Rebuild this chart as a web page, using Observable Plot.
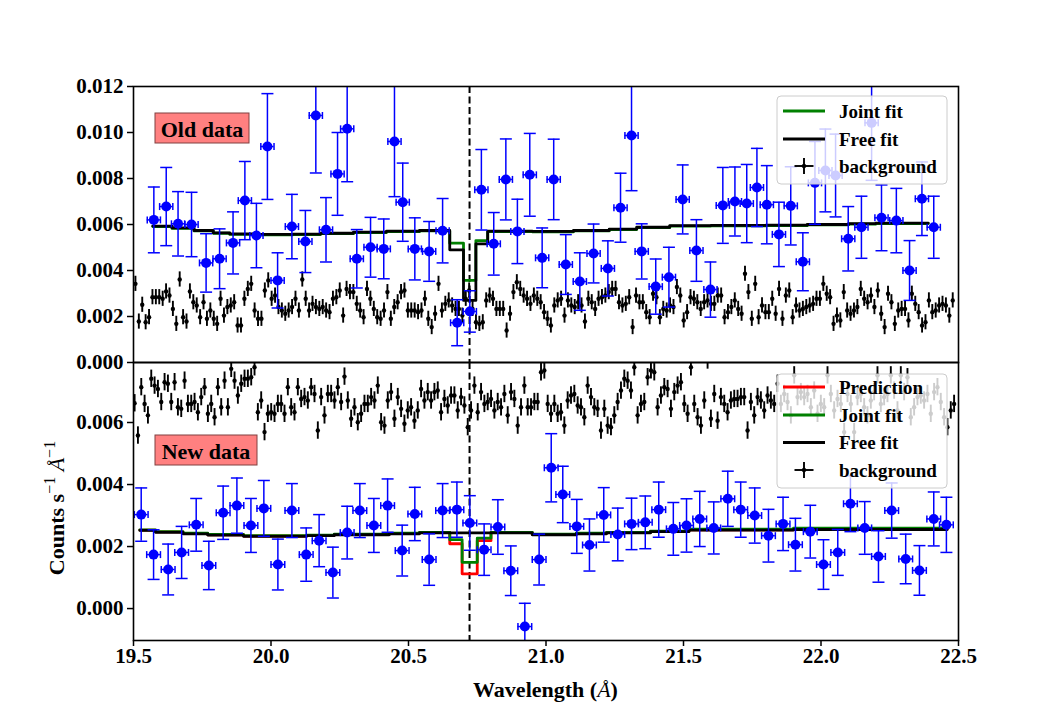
<!DOCTYPE html>
<html>
<head>
<meta charset="utf-8">
<script src="https://cdn.jsdelivr.net/npm/d3@7"></script>
<script src="https://cdn.jsdelivr.net/npm/@observablehq/plot@0.6"></script>
<style>
  html, body { margin: 0; padding: 0; background: white; }
  #fig { position: relative; width: 1063px; height: 719px; background: white; overflow: hidden; }
  #fig > svg { position: absolute; left: 0; top: 0; }
  #fig [aria-label^="y-axis"] line, #fig [aria-label^="y-axis"] path,
  #fig [aria-label^="x-axis"] line, #fig [aria-label^="x-axis"] path { stroke-width: 1.5px; }
</style>
</head>
<body>
<div id="fig"></div>
<script>
// ---------------- DATA (values in units of 1e-3 counts s^-1 Å^-1) ----------------
const E3 = 1e-3;
const lineCenter = 20.722;              // dashed vertical line (Å)
const xTicks = [19.5, 20.0, 20.5, 21.0, 21.5, 22.0, 22.5];
const yTicksTop = [0, 0.002, 0.004, 0.006, 0.008, 0.010, 0.012];
const yTicksBot = [0, 0.002, 0.004, 0.006];

// Old data (top panel) – source spectrum
const oldX = [19.574,19.619,19.662,19.711,19.764,19.813,19.862,19.905,19.947,19.987,
  20.024,20.076,20.125,20.163,20.200,20.242,20.277,20.312,20.362,20.410,
  20.449,20.479,20.523,20.575,20.624,20.677,20.723,20.765,20.810,20.854,
  20.896,20.941,20.986,21.028,21.072,21.123,21.173,21.225,21.271,21.311,
  21.348,21.399,21.447,21.497,21.547,21.598,21.643,21.687,21.730,21.767,
  21.803,21.847,21.890,21.934,21.978,22.016,22.053,22.099,22.147,22.184,
  22.220,22.274,22.322,22.367,22.410];
const oldY = [6.20,6.78,6.03,6.00,4.33,4.51,5.20,7.04,5.52,9.39,
  3.57,5.91,5.26,10.74,5.77,8.20,10.16,4.51,5.01,4.94,
  9.61,6.97,4.94,4.83,5.73,1.73,2.22,7.51,5.16,7.96,
  5.70,8.16,4.55,7.96,4.26,3.52,4.74,4.09,6.73,9.87,
  4.83,3.30,3.71,7.09,4.87,3.17,6.83,7.00,6.91,7.61,
  6.86,5.57,6.81,4.38,7.81,8.35,8.13,5.38,5.88,10.42,
  6.29,6.17,4.00,7.12,5.88];
const oldErr = [1.43,1.70,1.40,1.40,1.27,1.30,1.35,1.70,1.40,2.30,
  1.20,1.40,1.35,2.50,1.40,1.80,2.30,1.27,1.30,1.30,
  2.40,1.70,1.35,1.30,1.40,1.00,0.90,1.75,1.36,1.76,
  1.40,1.80,1.30,1.75,1.30,1.25,1.28,1.20,1.50,2.40,
  1.20,1.20,1.30,1.50,1.34,1.20,1.65,1.50,1.70,1.70,
  1.70,1.40,1.70,1.26,1.80,1.80,1.80,1.40,1.35,2.50,
  1.43,1.40,1.30,1.60,1.35];
const oldXErr = 0.024;

// New data (bottom panel)
const newX = [19.528,19.573,19.626,19.675,19.728,19.774,19.826,19.876,19.927,19.974,
  20.025,20.076,20.128,20.175,20.225,20.277,20.323,20.374,20.424,20.477,
  20.523,20.575,20.624,20.676,20.723,20.775,20.825,20.872,20.923,20.975,
  21.019,21.061,21.112,21.158,21.210,21.261,21.311,21.361,21.410,21.463,
  21.511,21.559,21.610,21.661,21.708,21.759,21.809,21.862,21.907,21.961,
  22.009,22.061,22.107,22.159,22.209,22.257,22.308,22.358,22.410,22.456];
const newY = [3.03,1.74,1.26,1.81,2.70,1.39,3.09,3.32,2.68,3.23,
  1.42,3.16,1.74,2.19,1.16,2.45,3.16,2.68,3.32,1.87,
  3.05,1.58,3.16,3.19,2.76,1.90,2.63,1.22,-0.58,1.58,
  4.54,3.68,2.65,2.05,3.02,2.39,2.73,2.78,3.19,2.57,
  2.68,2.89,2.60,3.54,3.19,3.00,2.35,2.73,2.06,2.48,
  1.42,1.81,3.38,2.60,1.68,3.16,1.60,1.23,2.89,2.70];
const newErr = [0.86,0.80,0.82,0.84,0.85,0.78,0.86,0.89,0.87,0.90,
  0.82,0.87,0.86,0.84,0.82,0.85,0.87,0.87,0.86,0.82,
  0.86,0.83,0.87,0.89,0.88,0.83,0.88,0.80,0.75,0.82,
  1.10,0.91,0.87,0.84,0.88,0.85,0.83,0.85,0.89,0.85,
  0.86,0.89,0.84,0.89,0.89,0.89,0.85,0.86,0.85,0.85,
  0.80,0.74,0.90,0.85,0.83,0.89,0.80,0.80,0.87,0.89];
const newXErr = 0.025;

// Background spectra (evenly binned)
const bgTopRange = [19.507, 22.479];
const bgTopY = [3.42,1.78,2.51,1.75,1.97,2.84,2.84,2.84,2.77,3.09,
  2.91,2.33,1.68,3.61,1.97,1.78,3.09,2.62,2.48,1.97,
  2.62,1.90,2.26,1.90,1.68,2.77,2.04,2.41,2.48,2.62,
  1.61,1.61,2.77,3.20,3.42,2.26,1.90,1.90,3.13,3.57,
  2.77,2.91,2.41,2.26,2.12,2.26,2.41,2.77,2.26,3.61,
  2.77,2.26,2.55,2.41,2.33,2.41,2.26,2.19,2.77,2.84,
  3.13,2.04,3.20,3.06,3.06,2.55,2.26,1.97,3.20,2.77,
  2.33,1.97,1.90,2.26,3.06,1.90,2.41,2.62,3.06,3.13,
  2.26,2.26,2.26,2.19,2.26,2.77,1.90,1.54,2.12,3.42,
  2.26,2.55,2.70,2.48,2.33,2.33,2.04,2.77,3.13,2.33,
  1.75,1.68,1.75,2.70,2.91,2.77,2.33,2.33,2.33,1.39,
  2.12,3.06,3.49,3.20,2.91,2.77,2.55,2.91,2.77,2.62,
  2.19,1.90,1.61,2.48,2.70,2.77,2.04,2.70,2.48,2.41,
  2.62,2.48,1.78,2.77,2.62,2.33,2.77,2.84,2.91,3.06,
  3.20,3.20,2.62,2.48,2.55,2.84,1.54,2.91,2.62,2.62,
  2.19,1.97,2.99,2.84,1.97,2.33,2.26,2.48,2.41,3.28,
  2.91,1.83,2.19,2.84,2.77,2.62,2.33,2.62,2.70,2.55,
  2.55,2.91,2.91,1.97,2.19,2.41,2.70,2.33,2.12,3.86,
  3.06,1.90,3.42,1.97,2.48,2.19,2.19,2.77,2.12,3.20,
  1.90,2.91,3.13,1.97,2.48,2.26,2.33,2.41,2.48,2.55,
  2.77,2.77,3.42,2.99,2.84,1.68,2.04,1.83,3.06,2.26,
  2.12,2.26,2.41,3.20,2.77,2.62,2.91,2.41,3.13,2.12,
  1.54,2.99,2.62,1.68,2.26,2.33,2.33,1.83,2.99,2.55,
  2.19,1.61,1.75,2.70,2.19,2.26,2.48,2.55,2.48,2.04,2.70];
const bgTopErr = 0.33;

const bgBotRange = [19.504, 22.484];
const bgBotY = [6.62,5.58,7.14,6.60,6.23,7.41,7.19,7.08,6.66,7.30,
  7.25,6.66,7.30,6.49,6.44,7.35,6.60,6.60,6.66,6.33,
  6.82,7.14,6.28,6.60,6.17,7.14,6.49,7.35,6.49,7.73,
  7.35,6.87,7.25,7.41,7.41,7.46,7.78,6.33,6.71,5.69,6.28,
  6.33,6.28,6.60,6.60,6.28,7.14,6.49,6.33,7.14,6.76,
  6.82,6.71,7.14,6.92,5.74,6.82,6.23,6.92,6.92,6.71,
  7.14,6.66,7.48,6.71,6.12,6.49,6.01,6.28,6.60,6.60,
  6.82,6.71,7.19,6.01,5.90,6.71,6.98,6.12,6.82,6.44,
  5.96,6.39,6.49,6.06,6.39,7.08,6.71,6.98,6.71,6.98,
  7.03,6.33,6.76,6.55,6.87,6.87,6.39,6.82,6.55,5.85,
  6.39,7.19,6.33,6.98,6.60,6.66,6.76,6.39,6.66,6.49,
  6.92,6.23,6.98,6.76,5.90,6.49,7.19,6.49,6.49,6.66,
  6.66,7.62,
  7.68,6.60,6.28,6.60,6.28,6.33,5.90,6.71,6.87,6.92,
  6.55,6.49,6.17,7.19,6.82,6.49,6.44,5.74,6.44,5.90,
  5.85,6.23,6.66,7.03,7.41,7.35,7.03,7.78,6.23,6.60,
  6.66,7.46,7.68,7.62,6.49,6.87,7.14,7.08,6.44,6.98,
  7.19,7.30,6.60,6.28,7.78,6.60,6.17,5.90,6.71,8.00,
  6.12,6.92,6.06,6.82,6.60,6.33,6.71,6.76,6.76,6.82,
  6.82,5.74,6.66,6.23,6.82,6.71,6.39,6.87,6.71,6.60,
  7.25,6.60,6.92,6.66,6.23,7.52,6.82,6.98,6.82,6.92,
  6.49,7.03,6.28,6.60,6.49,7.52,6.92,6.39,6.76,6.60,
  5.69,6.92,6.60,5.69,6.82,6.92,6.49,6.23,6.71,6.98,
  7.52,6.60,6.82,6.92,7.52,7.03,6.39,7.52,6.98,7.46,
  6.17,6.49,6.82,6.87,6.71,6.92,6.28,6.98,7.14,6.66,
  6.17,5.85,6.39,6.60];
const bgBotErr = 0.28;

// Model step curves (x = left edge of each step; last point closes the curve)
const fitTopFreeX  = [19.570,19.640,19.720,19.790,19.850,19.950,20.080,20.180,20.300,20.420,20.540,20.650,20.700,20.745,20.788,20.950,21.100,21.230,21.330,21.450,21.600,21.800,21.950,22.100,22.200,22.390];
const fitTopFreeY  = [5.93,5.85,5.74,5.64,5.59,5.57,5.58,5.62,5.67,5.71,5.74,4.90,2.70,5.16,5.71,5.70,5.74,5.80,5.88,5.95,5.96,5.97,6.00,6.04,6.06,6.06];
const fitTopJointX = [19.570,19.640,19.720,19.790,19.850,19.950,20.080,20.180,20.300,20.420,20.540,20.650,20.700,20.745,20.788,20.950,21.100,21.230,21.330,21.450,21.600,21.800,21.950,22.100,22.200,22.390];
const fitTopJointY = [5.91,5.83,5.72,5.62,5.57,5.55,5.56,5.60,5.65,5.69,5.72,5.19,3.57,5.30,5.69,5.68,5.72,5.78,5.86,5.93,5.94,5.95,5.98,6.02,6.04,6.04];

const fitBotFreeX  = [19.523,19.580,19.680,19.770,19.900,20.130,20.230,20.430,20.540,20.950,21.110,21.220,21.380,21.520,21.900,22.459];
const fitBotFreeY  = [2.52,2.46,2.41,2.37,2.33,2.35,2.38,2.41,2.44,2.38,2.41,2.44,2.48,2.53,2.55,2.55];
const fitBotJointX = [19.523,19.580,19.680,19.770,19.900,20.130,20.230,20.430,20.540,20.650,20.695,20.750,20.800,20.950,21.110,21.220,21.380,21.520,21.900,22.459];
const fitBotJointY = [2.54,2.48,2.43,2.39,2.35,2.37,2.40,2.43,2.46,2.22,1.49,2.27,2.46,2.40,2.43,2.46,2.50,2.56,2.59,2.59];
const fitBotPredX  = [19.523,19.580,19.680,19.770,19.900,20.130,20.230,20.430,20.540,20.650,20.695,20.750,20.800,20.950,21.110,21.220,21.380,21.520,21.900,22.459];
const fitBotPredY  = [2.53,2.47,2.42,2.38,2.34,2.36,2.39,2.42,2.45,2.09,1.12,2.19,2.45,2.39,2.42,2.45,2.49,2.54,2.56,2.56];

// ---------------- TABLES ----------------
const pts = (X, Y, Err, XErr) => X.map((x, i) => ({
  x, y: Y[i] * E3, lo: (Y[i] - Err[i]) * E3, hi: (Y[i] + Err[i]) * E3, x1: x - XErr, x2: x + XErr
}));
const bg = (range, Y, err) => {
  const n = Y.length, step = (range[1] - range[0]) / (n - 1);
  return Y.map((v, i) => ({ x: range[0] + i * step, y: v * E3, lo: (v - err) * E3, hi: (v + err) * E3 }));
};
const curve = (X, Y) => X.map((x, i) => ({ x, y: Y[i] * E3 }));

const oldPts = pts(oldX, oldY, oldErr, oldXErr);
const newPts = pts(newX, newY, newErr, newXErr);
const bgTop = bg(bgTopRange, bgTopY, bgTopErr);
const bgBot = bg(bgBotRange, bgBotY, bgBotErr);

const hcap = { draw(ctx, size) { const r = Math.sqrt(size / Math.PI); ctx.moveTo(-r, 0); ctx.lineTo(r, 0); } };
const vcap = { draw(ctx, size) { const r = Math.sqrt(size / Math.PI); ctx.moveTo(0, -r); ctx.lineTo(0, r); } };

const BLUE = "#0000ff", GREEN = "#008000", RED = "#ff0000";
const fontStyle = { fontFamily: "'Liberation Serif', 'Times New Roman', serif", fontSize: "21px", fontWeight: "bold", background: "transparent", overflow: "visible", color: "black" };

function dataMarks(P) {
  return [
    Plot.ruleX(P, { x: "x", y1: "lo", y2: "hi", stroke: BLUE, strokeWidth: 1.5, clip: true }),
    Plot.ruleY(P, { y: "y", x1: "x1", x2: "x2", stroke: BLUE, strokeWidth: 1.5, clip: true }),
    Plot.dot(P, { x: "x", y: "hi", symbol: hcap, r: 6, fill: "none", stroke: BLUE, strokeWidth: 1.5, clip: true }),
    Plot.dot(P, { x: "x", y: "lo", symbol: hcap, r: 6, fill: "none", stroke: BLUE, strokeWidth: 1.5, clip: true }),
    Plot.dot(P, { x: "x1", y: "y", symbol: vcap, r: 3.5, fill: "none", stroke: BLUE, strokeWidth: 1.5, clip: true }),
    Plot.dot(P, { x: "x2", y: "y", symbol: vcap, r: 3.5, fill: "none", stroke: BLUE, strokeWidth: 1.5, clip: true }),
    Plot.dot(P, { x: "x", y: "y", r: 5, fill: BLUE, stroke: "none", clip: true })
  ];
}
function bgMarks(B) {
  return [
    Plot.ruleX(B, { x: "x", y1: "lo", y2: "hi", stroke: "black", strokeWidth: 1.9, clip: true }),
    Plot.dot(B, { x: "x", y: "y", r: 2.2, fill: "black", stroke: "none", clip: true })
  ];
}

const topPlot = Plot.plot({
  width: 1063, height: 719,
  marginLeft: 133, marginRight: 105, marginTop: 86, marginBottom: 357,
  style: fontStyle,
  x: { domain: [19.5, 22.5], axis: null },
  y: { domain: [0, 0.012], ticks: yTicksTop, tickFormat: d3.format(".3f"), tickSize: 6, tickPadding: 4, label: null },
  marks: [
    ...bgMarks(bgTop),
    Plot.ruleX([lineCenter], { stroke: "black", strokeWidth: 2, strokeDasharray: "7,3.5" }),
    Plot.line(curve(fitTopJointX, fitTopJointY), { x: "x", y: "y", curve: "step-after", stroke: GREEN, strokeWidth: 2.8 }),
    Plot.line(curve(fitTopFreeX, fitTopFreeY), { x: "x", y: "y", curve: "step-after", stroke: "black", strokeWidth: 2.8 }),
    ...dataMarks(oldPts),
    Plot.frame({ stroke: "black", strokeWidth: 1.6 })
  ]
});

const botPlot = Plot.plot({
  width: 1063, height: 719,
  marginLeft: 133, marginRight: 105, marginTop: 362, marginBottom: 79,
  style: fontStyle,
  x: { domain: [19.5, 22.5], ticks: xTicks, tickFormat: d3.format(".1f"), tickSize: 6, tickPadding: 2, label: null },
  y: { domain: [-0.00103, 0.007935], ticks: yTicksBot, tickFormat: d3.format(".3f"), tickSize: 6, tickPadding: 4, label: null },
  marks: [
    ...bgMarks(bgBot),
    Plot.ruleX([lineCenter], { stroke: "black", strokeWidth: 2, strokeDasharray: "7,3.5" }),
    Plot.line(curve(fitBotPredX, fitBotPredY), { x: "x", y: "y", curve: "step-after", stroke: RED, strokeWidth: 2.8 }),
    Plot.line(curve(fitBotJointX, fitBotJointY), { x: "x", y: "y", curve: "step-after", stroke: GREEN, strokeWidth: 2.8 }),
    Plot.line(curve(fitBotFreeX, fitBotFreeY), { x: "x", y: "y", curve: "step-after", stroke: "black", strokeWidth: 2.8 }),
    ...dataMarks(newPts),
    Plot.frame({ stroke: "black", strokeWidth: 1.6 })
  ]
});

const fig = document.getElementById("fig");
fig.appendChild(botPlot);
fig.appendChild(topPlot);

// ---------------- OVERLAY: legends, annotations, axis labels ----------------
const ov = d3.create("svg").attr("width", 1063).attr("height", 719)
  .style("font-family", "'Liberation Serif', 'Times New Roman', serif");

function annot(x, y, w, h, label) {
  ov.append("rect").attr("x", x).attr("y", y).attr("width", w).attr("height", h)
    .attr("fill", "#ff8080").attr("stroke", "#804040").attr("stroke-width", 1);
  ov.append("text").attr("x", x + w / 2).attr("y", y + h / 2 + 1).attr("text-anchor", "middle")
    .attr("dominant-baseline", "central").attr("font-size", 22).attr("font-weight", "bold").text(label);
}
annot(155, 113, 94, 30, "Old data");
annot(155, 435, 102, 30, "New data");

function legend(x, y, w, h, rows) {
  ov.append("rect").attr("x", x).attr("y", y).attr("width", w).attr("height", h).attr("rx", 4)
    .attr("fill", "rgba(255,255,255,0.8)").attr("stroke", "#cccccc").attr("stroke-width", 1);
  rows.forEach(r => {
    if (r.color) {
      ov.append("line").attr("x1", x + 6).attr("x2", x + 48).attr("y1", r.cy).attr("y2", r.cy)
        .attr("stroke", r.color).attr("stroke-width", 2.8);
    } else {
      const cx = x + 27;
      ov.append("line").attr("x1", cx).attr("x2", cx).attr("y1", r.cy - 8).attr("y2", r.cy + 8).attr("stroke", "black").attr("stroke-width", 1.9);
      ov.append("line").attr("x1", cx - 9.5).attr("x2", cx + 9.5).attr("y1", r.cy).attr("y2", r.cy).attr("stroke", "black").attr("stroke-width", 1.9);
      ov.append("circle").attr("cx", cx).attr("cy", r.cy).attr("r", 2.2).attr("fill", "black");
    }
    ov.append("text").attr("x", x + 62).attr("y", r.cy).attr("dominant-baseline", "central")
      .attr("font-size", 19).attr("font-weight", "bold").text(r.label);
  });
}
legend(777, 96, 170, 88, [
  { color: GREEN, label: "Joint fit", cy: 111 },
  { color: "black", label: "Free fit", cy: 139 },
  { label: "background", cy: 166 }
]);
legend(777, 374, 170, 114, [
  { color: RED, label: "Prediction", cy: 387 },
  { color: GREEN, label: "Joint fit", cy: 415 },
  { color: "black", label: "Free fit", cy: 442.5 },
  { label: "background", cy: 470 }
]);

// x label
const xl = ov.append("text").attr("x", 545.5).attr("y", 697).attr("text-anchor", "middle")
  .attr("font-size", 22).attr("font-weight", "bold");
xl.append("tspan").text("Wavelength (");
xl.append("tspan").attr("font-style", "italic").attr("font-weight", "normal").text("Å");
xl.append("tspan").text(")");

// y label
const yl = ov.append("text").attr("transform", "translate(64,508) rotate(-90)").attr("text-anchor", "middle")
  .attr("font-size", 22).attr("font-weight", "bold");
yl.append("tspan").text("Counts s");
yl.append("tspan").attr("dy", -9).attr("font-size", 16).attr("font-weight", "normal").text("−1");
yl.append("tspan").attr("dy", 9).text(" ");
yl.append("tspan").attr("font-style", "italic").attr("font-weight", "normal").text("Å");
yl.append("tspan").attr("dy", -9).attr("font-size", 16).attr("font-weight", "normal").text("−1");

fig.appendChild(ov.node());
</script>
</body>
</html>
